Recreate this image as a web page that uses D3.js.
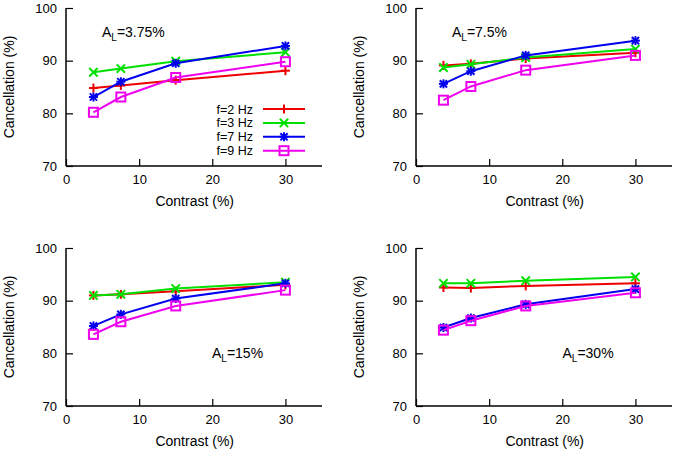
<!DOCTYPE html>
<html>
<head>
<meta charset="utf-8">
<script src="https://cdn.jsdelivr.net/npm/d3@7"></script>
<style>
  html, body { margin: 0; padding: 0; background: #fff; }
  svg text { font-family: "Liberation Sans", Arial, Helvetica, sans-serif; fill: #000; }
</style>
</head>
<body>
<svg id="chart" width="675" height="452"></svg>
<script>
// ---- data ----
const contrast = [3.75, 7.5, 15, 30];
const seriesNames = ["f=2 Hz", "f=3 Hz", "f=7 Hz", "f=9 Hz"];
const panelLabels = ["3.75%", "7.5%", "15%", "30%"];
const xTicks = [0, 10, 20, 30];
const yTicks = [70, 80, 90, 100];

// panel A_L = 3.75%
const p1_f2 = [84.8, 85.3, 86.3, 88.1];
const p1_f3 = [87.8, 88.5, 89.9, 91.6];
const p1_f7 = [83.1, 86.0, 89.5, 92.8];
const p1_f9 = [80.2, 83.1, 86.8, 89.8];
// panel A_L = 7.5%
const p2_f2 = [89.1, 89.4, 90.4, 91.5];
const p2_f3 = [88.7, 89.3, 90.6, 92.2];
const p2_f7 = [85.6, 88.0, 91.0, 93.8];
const p2_f9 = [82.5, 85.1, 88.2, 91.0];
// panel A_L = 15%
const p3_f2 = [91.0, 91.2, 91.8, 93.0];
const p3_f3 = [91.0, 91.2, 92.3, 93.5];
const p3_f7 = [85.2, 87.4, 90.4, 93.3];
const p3_f9 = [83.6, 86.0, 89.0, 92.0];
// panel A_L = 30%
const p4_f2 = [92.5, 92.4, 92.8, 93.3];
const p4_f3 = [93.3, 93.3, 93.8, 94.5];
const p4_f7 = [84.9, 86.7, 89.3, 92.2];
const p4_f9 = [84.4, 86.2, 89.0, 91.5];

const panelData = [
  [p1_f2, p1_f3, p1_f7, p1_f9],
  [p2_f2, p2_f3, p2_f7, p2_f9],
  [p3_f2, p3_f3, p3_f7, p3_f9],
  [p4_f2, p4_f3, p4_f7, p4_f9]
];

// ---- styling / layout ----
const colors = ["#ee0000", "#00e000", "#0000ee", "#ee00ee"];
const markers = ["plus", "cross", "star", "square"];
const panels = [
  {left: 66, top: 8, ann: {dx: 36, dy: 29}, legend: true},
  {left: 416, top: 8, ann: {dx: 36, dy: 29}, legend: false},
  {left: 66, top: 248, ann: {dx: 146, dy: 110}, legend: false},
  {left: 416, top: 248, ann: {dx: 146.5, dy: 110}, legend: false}
];
const W = 256, H = 158;

const svg = d3.select("#chart");

function drawMarker(g, type, cx, cy, color) {
  const s = 4.5;
  const m = g.append("g").attr("transform", `translate(${cx},${cy})`)
    .attr("stroke", color).attr("stroke-width", 2).attr("fill", "none");
  if (type === "plus" || type === "star") {
    m.append("line").attr("x1", -s).attr("x2", s).attr("y1", 0).attr("y2", 0);
    m.append("line").attr("x1", 0).attr("x2", 0).attr("y1", -s).attr("y2", s);
  }
  if (type === "cross" || type === "star") {
    const c = type === "star" ? 3.6 : 4.2;
    m.append("line").attr("x1", -c).attr("x2", c).attr("y1", -c).attr("y2", c);
    m.append("line").attr("x1", -c).attr("x2", c).attr("y1", c).attr("y2", -c);
  }
  if (type === "square") {
    m.append("rect").attr("x", -4.5).attr("y", -4.5).attr("width", 9).attr("height", 9);
  }
}

panels.forEach((p, pi) => {
  const x = d3.scaleLinear().domain([0, 35]).range([0, W]);
  const y = d3.scaleLinear().domain([70, 100]).range([H, 0]);
  const g = svg.append("g").attr("transform", `translate(${p.left},${p.top})`);

  // axes
  const xAxis = d3.axisBottom(x).tickValues(xTicks).tickSize(-7).tickPadding(9);
  const gx = g.append("g").attr("transform", `translate(0,${H})`).call(xAxis);
  gx.select(".domain").attr("stroke-width", 1.5).attr("d", `M0,0H${W}`);
  gx.selectAll(".tick line").attr("stroke-width", 1.2);
  gx.selectAll("text").attr("font-size", 13).attr("font-family", "Liberation Sans, Arial, sans-serif").attr("dy", "0.71em");

  const yAxis = d3.axisLeft(y).tickValues(yTicks).tickSize(-7).tickPadding(9);
  const gy = g.append("g").call(yAxis);
  gy.select(".domain").attr("stroke-width", 1.5).attr("d", `M0,0V${H}`);
  gy.selectAll(".tick line").attr("stroke-width", 1.2);
  gy.selectAll("text").attr("font-size", 13).attr("font-family", "Liberation Sans, Arial, sans-serif");

  // axis titles
  g.append("text").attr("x", x(17.6)).attr("y", H + 39.5)
    .attr("text-anchor", "middle").attr("font-size", 14).text("Contrast (%)");
  g.append("text").attr("transform", `translate(-52,${H / 2}) rotate(-90)`)
    .attr("text-anchor", "middle").attr("font-size", 14).text("Cancellation (%)");

  // series
  const line = d3.line().x((d, i) => x(contrast[i])).y(d => y(d));
  panelData[pi].forEach((vals, si) => {
    g.append("path").datum(vals).attr("d", line)
      .attr("fill", "none").attr("stroke", colors[si]).attr("stroke-width", 2);
    vals.forEach((v, i) => drawMarker(g, markers[si], x(contrast[i]), y(v), colors[si]));
  });

  // annotation
  const t = g.append("text").attr("x", p.ann.dx).attr("y", p.ann.dy).attr("font-size", 14);
  t.append("tspan").text("A");
  t.append("tspan").attr("font-size", 10).attr("dy", 4).text("L");
  t.append("tspan").attr("dy", -4).text("=" + panelLabels[pi]);

  // legend
  if (p.legend) {
    seriesNames.forEach((name, si) => {
      const ly = 101 + si * 13.9;
      g.append("text").attr("x", 187).attr("y", ly).attr("dy", "0.36em")
        .attr("text-anchor", "end").attr("font-size", 12.5).text(name);
      g.append("line").attr("x1", 197).attr("x2", 239).attr("y1", ly).attr("y2", ly)
        .attr("stroke", colors[si]).attr("stroke-width", 2);
      drawMarker(g, markers[si], 218, ly, colors[si]);
    });
  }
});
</script>
</body>
</html>
